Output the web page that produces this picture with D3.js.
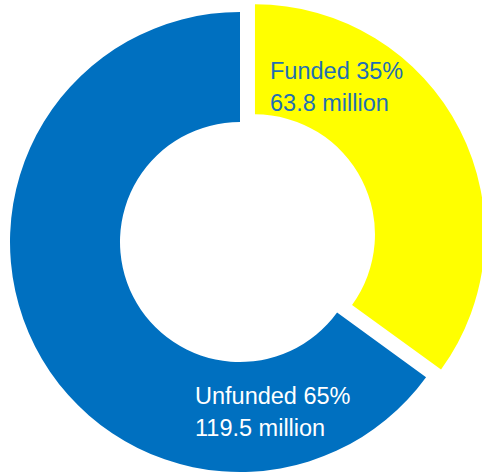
<!DOCTYPE html>
<html>
<head>
<meta charset="utf-8">
<script src="https://cdn.jsdelivr.net/npm/d3@7"></script>
<style>
  body { margin: 0; background: #fff; }
  svg { display: block; }
</style>
</head>
<body>
<div id="chart"></div>
<script>
// data
var categories = ["Funded", "Unfunded"];
var percents = [35, 65];
var amounts = ["63.8 million", "119.5 million"];
var colors = ["#FFFF00", "#0070C0"];

var width = 482, height = 475;
var cx = 240, cy = 242,
    outerR = 230, innerR = 120,
    explode = 16.8;

var svg = d3.select("#chart")
  .append("svg")
    .attr("width", width)
    .attr("height", height);

var data = categories.map(function(c, i) {
  return { name: c, value: percents[i], amount: amounts[i], color: colors[i], explode: i == 0 };
});

var pie = d3.pie()
  .sort(null)
  .value(function(d) { return d.value; });

var arc = d3.arc()
  .innerRadius(innerR)
  .outerRadius(outerR);

var slices = pie(data);

svg.append("g")
  .attr("transform", "translate(" + cx + "," + cy + ")")
  .selectAll("path")
  .data(slices)
  .enter()
  .append("path")
    .attr("d", arc)
    .attr("fill", function(d) { return d.data.color; })
    .attr("transform", function(d) {
      if (!d.data.explode) return null;
      var mid = (d.startAngle + d.endAngle) / 2;
      return "translate(" + (Math.sin(mid) * explode) + "," + (-Math.cos(mid) * explode) + ")";
    });

// labels
var labelPos = [
  { x: 270, y: 79, fill: "#1F6FB4" },
  { x: 195, y: 404, fill: "#ffffff" }
];

var labels = svg.append("g")
  .selectAll("text")
  .data(slices)
  .enter()
  .append("text")
    .attr("x", function(d, i) { return labelPos[i].x; })
    .attr("y", function(d, i) { return labelPos[i].y; })
    .attr("fill", function(d, i) { return labelPos[i].fill; })
    .style("font-family", "'Liberation Sans', Arial, sans-serif")
    .style("font-size", "23.5px");

labels.append("tspan")
  .text(function(d) { return d.data.name + " " + d.data.value + "%"; });

labels.append("tspan")
  .attr("x", function(d, i) { return labelPos[i].x; })
  .attr("dy", 32)
  .text(function(d) { return d.data.amount; });
</script>
</body>
</html>
